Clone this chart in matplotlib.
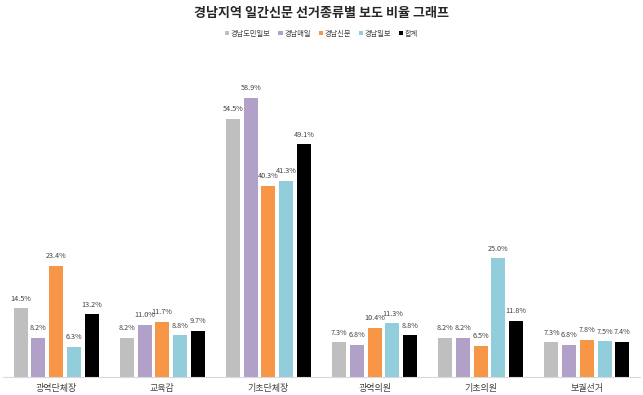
import matplotlib
matplotlib.use("Agg")
import matplotlib.pyplot as plt
import numpy as np

plt.rcParams['font.family'] = ['Noto Sans CJK KR', 'DejaVu Sans']

categories = ["광역단체장", "교육감", "기초단체장", "광역의원", "기초의원", "보궐선거"]
series_names = ["경남도민일보", "경남매일", "경남신문", "경남일보", "합계"]
gyeongnam_domin = [14.5, 8.2, 54.5, 7.3, 8.2, 7.3]
gyeongnam_maeil = [8.2, 11.0, 58.9, 6.8, 8.2, 6.8]
gyeongnam_sinmun = [23.4, 11.7, 40.3, 10.4, 6.5, 7.8]
gyeongnam_ilbo = [6.3, 8.8, 41.3, 11.3, 25.0, 7.5]
total = [13.2, 9.7, 49.1, 8.8, 11.8, 7.4]
colors = ["#BFBFBF", "#B1A0C7", "#F79646", "#92CDDC", "#000000"]


def main():
    fig = plt.figure(figsize=(6.43, 3.95), dpi=100)
    ax = fig.add_axes([3 / 643, 18 / 395, 637 / 643, 330 / 395])

    series = [gyeongnam_domin, gyeongnam_maeil, gyeongnam_sinmun, gyeongnam_ilbo, total]
    x = np.arange(len(categories))
    step = 0.167
    width = 0.132
    for i, vals in enumerate(series):
        pos = x + (i - 2) * step
        bars = ax.bar(pos, vals, width, color=colors[i], label=series_names[i], zorder=2)
        for b, v in zip(bars, vals):
            ax.text(b.get_x() + b.get_width() / 2, v + 1.2, f"{v:.1f}%",
                    ha='center', va='bottom', fontsize=5.2, color='#404040')

    ax.set_xlim(-0.5, len(categories) - 0.5)
    ax.set_ylim(0, 69.6)
    ax.set_xticks(x)
    ax.set_xticklabels(categories, fontsize=6.5, color='#404040')
    ax.tick_params(axis='x', length=0, pad=5)
    ax.set_yticks([])
    for s in ['top', 'right', 'left']:
        ax.spines[s].set_visible(False)
    ax.spines['bottom'].set_color('#D9D9D9')

    fig.text(0.5, 0.968, "경남지역 일간신문 선거종류별 보도 비율 그래프",
             ha='center', va='center', fontsize=9.4, fontweight='bold', color='#262626')
    fig.legend(loc='center', bbox_to_anchor=(0.5, 0.915), ncol=5, frameon=False,
               fontsize=5.2, handlelength=0.6, handleheight=0.6, handletextpad=0.2,
               columnspacing=1.1, labelcolor='#404040')

    fig.savefig("out.png", dpi=100)


if __name__ == '__main__':
    main()
